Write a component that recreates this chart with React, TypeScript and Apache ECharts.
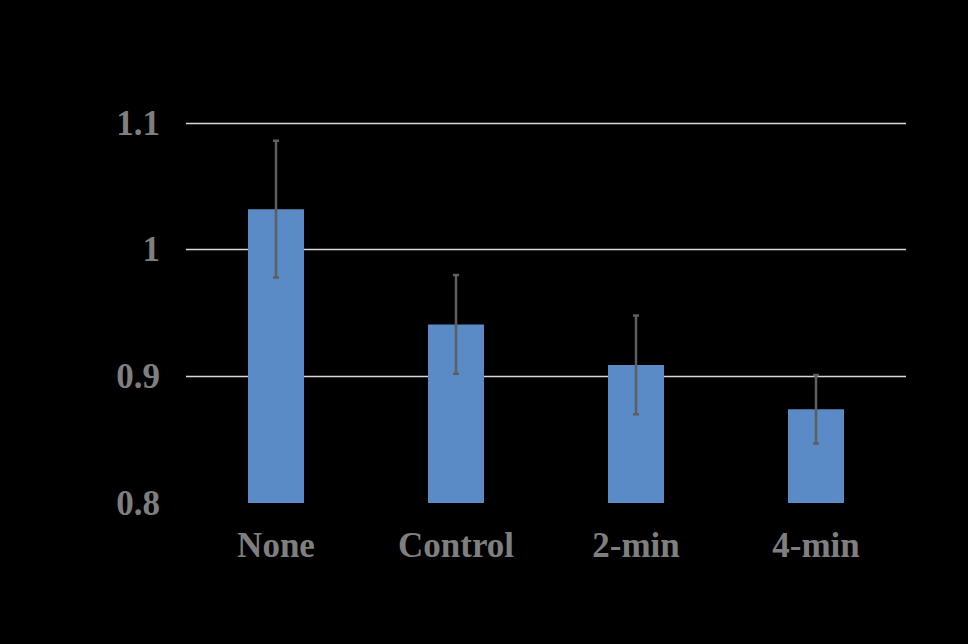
import React, { useEffect, useRef } from "react";
import * as echarts from "echarts";

const categories = ["None", "Control", "2-min", "4-min"];
const means = [1.032, 0.941, 0.909, 0.874];
const errors = [0.054, 0.039, 0.039, 0.027];
const yTicks = { min: 0.8, max: 1.1, interval: 0.1 };

export default function App() {
  const ref = useRef<HTMLDivElement>(null);
  useEffect(() => {
    if (!ref.current) return;
    const chart = echarts.init(ref.current, null, { renderer: "svg" });
    const errData = categories.map((c, i) => [i, means[i] - errors[i], means[i] + errors[i]]);
    chart.setOption({
      animation: false,
      backgroundColor: "#000000",
      grid: { left: 186, right: 62, top: 123, bottom: 141 },
      xAxis: {
        type: "category",
        data: categories,
        axisLine: { show: false },
        axisTick: { show: false },
        axisLabel: {
          color: "#7f7f7f",
          fontFamily: "Liberation Serif",
          fontWeight: "bold",
          fontSize: 35,
          margin: 25,
        },
      },
      yAxis: {
        type: "value",
        min: yTicks.min,
        max: yTicks.max,
        interval: yTicks.interval,
        axisLine: { show: false },
        axisTick: { show: false },
        axisLabel: {
          color: "#7f7f7f",
          fontFamily: "Liberation Serif",
          fontWeight: "bold",
          fontSize: 35,
          margin: 26,
          formatter: (v: number) => String(Math.round(v * 10) / 10),
        },
        splitLine: {
          lineStyle: { color: ["#000000", "#d9d9d9", "#d9d9d9", "#d9d9d9"], width: 1.3 },
        },
      },
      series: [
        {
          type: "bar",
          data: means,
          barWidth: 56,
          itemStyle: { color: "#5b8bc6" },
        },
        {
          type: "custom",
          data: errData,
          z: 10,
          renderItem: (params: any, api: any) => {
            const x = api.value(0);
            const lo = api.coord([x, api.value(1)]);
            const hi = api.coord([x, api.value(2)]);
            const cap = 3;
            const style = { stroke: "#5f5f5f", lineWidth: 2.5 };
            return {
              type: "group",
              children: [
                { type: "line", shape: { x1: hi[0], y1: hi[1], x2: lo[0], y2: lo[1] }, style },
                { type: "line", shape: { x1: hi[0] - cap, y1: hi[1], x2: hi[0] + cap, y2: hi[1] }, style },
                { type: "line", shape: { x1: lo[0] - cap, y1: lo[1], x2: lo[0] + cap, y2: lo[1] }, style },
              ],
            };
          },
        },
      ],
    });
    return () => chart.dispose();
  }, []);
  return (
    <div
      ref={ref}
      style={{ position: "fixed", left: 0, top: 0, width: 968, height: 644 }}
    />
  );
}
